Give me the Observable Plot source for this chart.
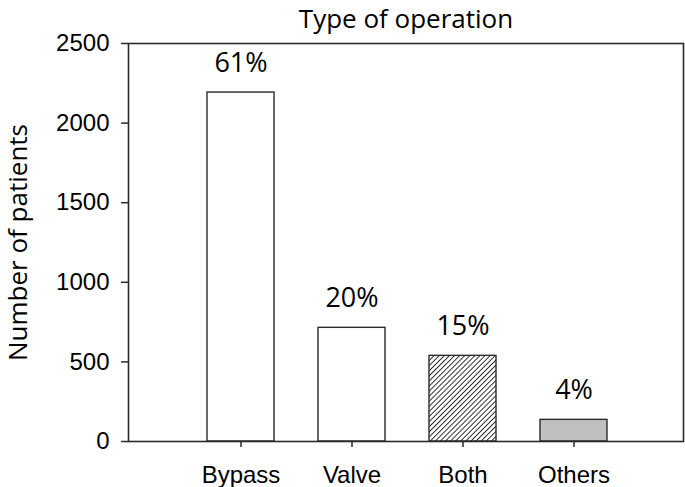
<!DOCTYPE html>
<html>
<head>
<meta charset="utf-8">
<script src="https://cdn.jsdelivr.net/npm/d3@7"></script>
<script src="https://cdn.jsdelivr.net/npm/@observablehq/plot@0.6"></script>
<style>
  html, body { margin: 0; padding: 0; background: #fff; }
  #chart svg { display: block; }
</style>
</head>
<body>
<div id="chart"></div>
<script>
const categories = ["Bypass", "Valve", "Both", "Others"];
const patients = [2192, 714, 538, 136];
const percentLabels = ["61%", "20%", "15%", "4%"];
const fills = ["#ffffff", "#ffffff", "url(#hatch)", "#c0c0c0"];
const yTicks = [0, 500, 1000, 1500, 2000, 2500];
const title = "Type of operation";
const yLabel = "Number of patients";

const data = categories.map((c, i) => ({
  category: c, value: patients[i], label: percentLabels[i], fill: fills[i]
}));

const W = 685, H = 487;
const mL = 128, mR = 2, mT = 43, mB = 46;
const labelFont = "'Open Sans', Lato, sans-serif";
const tickFont = "'Liberation Sans', Arial, sans-serif";
const ink = "#2a2a2a";

const chart = Plot.plot({
  width: W,
  height: H,
  marginLeft: mL,
  marginRight: mR,
  marginTop: mT,
  marginBottom: mB,
  style: { background: "#fff", overflow: "visible" },
  x: { domain: categories, range: [183.7, 629], paddingInner: 0.4, paddingOuter: 0.2 },
  y: { domain: [0, 2500] },
  marks: [
    Plot.barY(data, {
      x: "category", y: "value", fill: "fill",
      stroke: ink, strokeWidth: 1.4
    }),
    Plot.frame({ stroke: ink, strokeWidth: 1.6 }),
    Plot.axisY(yTicks, {
      tickSize: 7, tickPadding: 12, fontSize: 24, fontFamily: tickFont,
      tickFormat: "d",
      stroke: ink, strokeWidth: 1.5, fill: "#000", label: null
    }),
    Plot.axisX({
      tickSize: 6, tickPadding: 18, fontSize: 24, fontFamily: tickFont,
      stroke: ink, strokeWidth: 1.5, fill: "#000", label: null
    }),
    Plot.text(data, {
      x: "category", y: "value", text: "label",
      dy: -21, lineAnchor: "bottom", fontSize: 27, fontFamily: labelFont, fill: "#000"
    }),
    Plot.text([title], {
      frameAnchor: "top", dy: -24, lineAnchor: "middle",
      fontSize: 26, fontFamily: labelFont, fill: "#000"
    }),
    Plot.text([yLabel], {
      frameAnchor: "left", textAnchor: "middle", lineAnchor: "middle",
      dx: -110, dy: 0, rotate: -90,
      fontSize: 26, fontFamily: labelFont, fill: "#000"
    })
  ]
});

// hatch pattern for the "Both" bar
const ns = "http://www.w3.org/2000/svg";
const defs = document.createElementNS(ns, "defs");
const pat = document.createElementNS(ns, "pattern");
pat.setAttribute("id", "hatch");
pat.setAttribute("patternUnits", "userSpaceOnUse");
pat.setAttribute("width", "3.6");
pat.setAttribute("height", "3.6");
pat.setAttribute("patternTransform", "rotate(45)");
const bg = document.createElementNS(ns, "rect");
bg.setAttribute("width", "3.6"); bg.setAttribute("height", "3.6"); bg.setAttribute("fill", "#fff");
const ln = document.createElementNS(ns, "line");
ln.setAttribute("x1", "0"); ln.setAttribute("y1", "0");
ln.setAttribute("x2", "0"); ln.setAttribute("y2", "3.6");
ln.setAttribute("stroke", "#111"); ln.setAttribute("stroke-width", "1.7");
pat.appendChild(bg); pat.appendChild(ln);
defs.appendChild(pat);
chart.insertBefore(defs, chart.firstChild);

document.getElementById("chart").appendChild(chart);
</script>
</body>
</html>
